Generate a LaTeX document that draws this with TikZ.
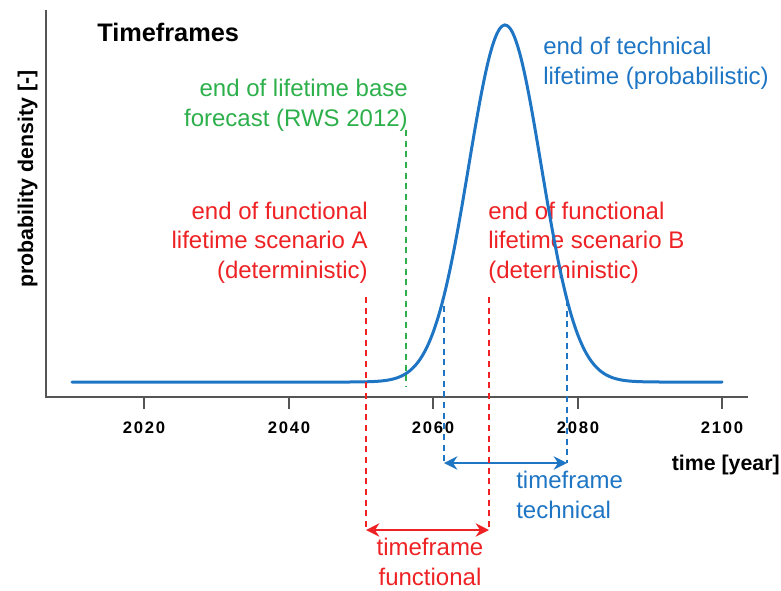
\documentclass[tikz,border=0pt]{standalone}
\usepackage{fontspec}
\setmainfont{Liberation Sans}
\usetikzlibrary{arrows.meta}
\definecolor{techblue}{RGB}{30,117,196}
\definecolor{funcred}{RGB}{238,34,36}
\definecolor{basegreen}{RGB}{45,176,75}
\definecolor{axisgray}{RGB}{85,85,85}
\tikzset{
  axisline/.style={axisgray, line width=1.1pt},
  dashline/.style={line width=1.5pt, dash pattern=on 4.5pt off 3.5pt},
  spanarrow/.style={{Stealth[length=10pt,width=10pt]}-{Stealth[length=10pt,width=10pt]}, line width=1.5pt},
  lbl/.style={inner sep=0pt, font=\fontsize{18}{22}\selectfont},
  ticklbl/.style={inner sep=0pt, anchor=base, font=\fontsize{12.5}{14}\bfseries\addfontfeatures{LetterSpace=10}},
}
\begin{document}
\begin{tikzpicture}[x=0.75pt,y=0.75pt,yscale=-1,xscale=1]
\useasboundingbox (0,0) rectangle (781,590);
%Axes
\draw [axisline] (46,10) -- (46,397) -- (748,397) ;
\foreach \yr/\px in {2020/144,2040/289,2060/433,2080/578,2100/722}{
  \draw [axisline] (\px,397) -- (\px,409) ;
  \node [ticklbl] (tick\yr) at (\px,433) {\yr};
}
% Text Node
\node [anchor=base west, inner sep=0pt, font=\fontsize{19}{22}\bfseries] (title) at (97,41) {Timeframes};
% Text Node
\node [rotate=90, anchor=base, inner sep=0pt, font=\fontsize{16}{18}\bfseries] (ylabel) at (33,179) {probability density [-]};
% Text Node
\node [anchor=base east, inner sep=0pt, font=\fontsize{16}{18}\bfseries] (xlabel) at (780,470) {time [year]};
% Text Node
\node [lbl, basegreen, align=right, anchor=base east] (baseLbl) at (408,126) {end of lifetime base\\forecast (RWS 2012)};
% Text Node
\node [lbl, techblue, align=left, anchor=base west] (techLbl) at (543,84) {end of technical\\lifetime (probabilistic)};
% Text Node
\node [lbl, funcred, align=right, anchor=base east] (funcALbl) at (368,278) {end of functional\\lifetime scenario A\\(deterministic)};
% Text Node
\node [lbl, funcred, align=left, anchor=base west] (funcBLbl) at (488,278) {end of functional\\lifetime scenario B\\(deterministic)};
% Text Node
\node [lbl, techblue, align=left, anchor=base west] (techSpan) at (516,518) {timeframe\\technical};
% Text Node
\node [lbl, funcred, align=center, anchor=base] (funcSpan) at (430,585) {timeframe\\functional};
%Curve
\draw [techblue, line width=2.25pt, line cap=round] plot [domain=72:722, samples=261, smooth] (\x, {382-357*exp(-0.5*((\x-505)/36.2)^2)}) ;
%Straight Lines
\coordinate (gTop) at (406,130);
\coordinate (gBot) at (406,387);
\coordinate (tlTop) at (444,306);
\coordinate (tlBot) at (444,463);
\coordinate (trTop) at (567,300);
\coordinate (trBot) at (567,463);
\coordinate (aTop) at (366,297);
\coordinate (aBot) at (366,530);
\coordinate (bTop) at (489,297);
\coordinate (bBot) at (489,530);
\draw [dashline, basegreen] (gTop) -- (gBot) ;
\draw [dashline, techblue] (tlTop) -- (tlBot) ;
\draw [dashline, techblue] (trTop) -- (trBot) ;
\draw [spanarrow, techblue] (tlBot) -- (trBot) ;
\draw [dashline, funcred] (aTop) -- (aBot) ;
\draw [dashline, funcred] (bTop) -- (bBot) ;
\draw [spanarrow, funcred] (aBot) -- (bBot) ;
\end{tikzpicture}
\end{document}
